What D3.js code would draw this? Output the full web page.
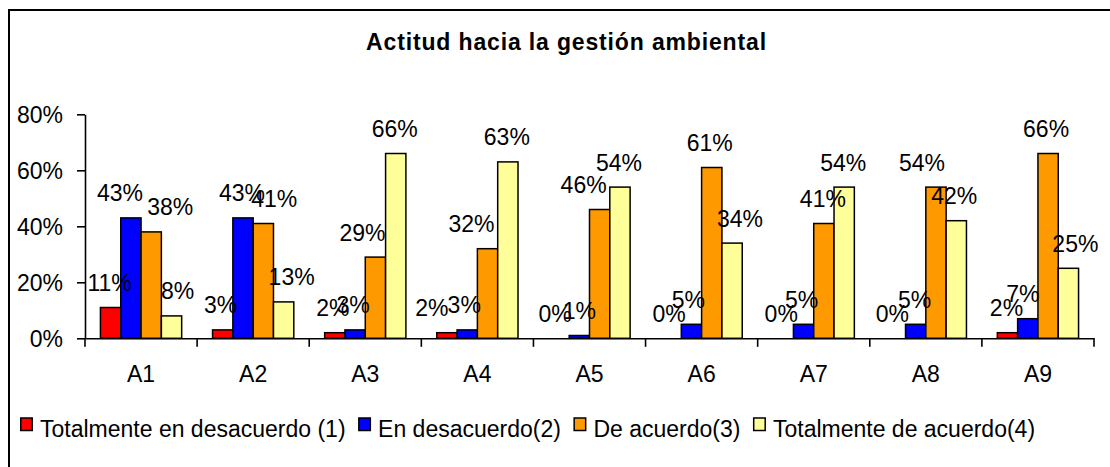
<!DOCTYPE html>
<html>
<head>
<meta charset="utf-8">
<script src="https://cdn.jsdelivr.net/npm/d3@7"></script>
<style>
  html, body { margin: 0; padding: 0; background: #fff; }
  svg { display: block; }
  text { font-family: "Liberation Sans", Arial, sans-serif; fill: #000; }
</style>
</head>
<body>
<svg id="chart" width="1110" height="467"></svg>
<script>
// ---- data ----
const title = "Actitud hacia la gestión ambiental";
const categories = ["A1", "A2", "A3", "A4", "A5", "A6", "A7", "A8", "A9"];
const seriesNames = ["Totalmente en desacuerdo (1)", "En desacuerdo(2)", "De acuerdo(3)", "Totalmente de acuerdo(4)"];
const totDesacuerdo = [11, 3, 2, 2, 0, 0, 0, 0, 2];
const desacuerdo    = [43, 43, 3, 3, 1, 5, 5, 5, 7];
const deAcuerdo     = [38, 41, 29, 32, 46, 61, 41, 54, 66];
const totAcuerdo    = [8, 13, 66, 63, 54, 34, 54, 42, 25];
const yTicks = [0, 20, 40, 60, 80];

// manual label nudges (px, horizontal) as placed in the original chart
const labelNudge = [
  [-1, -11, 19, 6],
  [-2, -1, 11, 8],
  [-2, -2, -13, -1],
  [-15, -3, -16, -1],
  [-4, 0, -16, -1],
  [-2, -3, -2, 8],
  [-2, -2, -1, -1],
  [-3, -1, -14, -2],
  [-1, -5, -2, 7]
];

const seriesValues = [totDesacuerdo, desacuerdo, deAcuerdo, totAcuerdo];
const colors = ["#FF0000", "#0000FF", "#FF9900", "#FFFF99"];

// ---- layout ----
const svg = d3.select("#chart");
const plotLeft = 85, plotRight = 1094, plotTop = 114.3, plotBottom = 338.3;
const FS = 23;

// frame
svg.append("rect")
  .attr("x", 9).attr("y", 10).attr("width", 1200).attr("height", 600)
  .attr("fill", "none").attr("stroke", "#000").attr("stroke-width", 2);

// title
svg.append("text")
  .attr("x", 566.5).attr("y", 50)
  .attr("text-anchor", "middle")
  .style("font-size", "23px").style("font-weight", "bold")
  .style("letter-spacing", "0.85px")
  .text(title);

const x0 = d3.scaleBand().domain(categories).range([plotLeft, plotRight]).paddingInner(0).paddingOuter(0);
const x1 = d3.scaleBand().domain(d3.range(seriesNames.length)).range([0, x0.bandwidth()])
  .paddingInner(0).paddingOuter(0.76);
const y = d3.scaleLinear().domain([0, 80]).range([plotBottom, plotTop]);

// y axis
const yAxis = d3.axisLeft(y).tickValues(yTicks).tickFormat(d => d + "%").tickSize(8).tickSizeOuter(0).tickPadding(14);
const gy = svg.append("g").attr("transform", `translate(${plotLeft},0)`).call(yAxis);
gy.selectAll("text").style("font-size", FS + "px").attr("dy", "0.35em");
gy.selectAll("line, path").attr("stroke", "#000").attr("stroke-width", 1.6);

// bars
const groups = svg.append("g").selectAll("g")
  .data(categories).join("g")
  .attr("transform", d => `translate(${x0(d)},0)`);

groups.each(function(cat, ci) {
  const g = d3.select(this);
  seriesValues.forEach((vals, si) => {
    const v = vals[ci];
    if (v > 0) {
      g.append("rect")
        .attr("x", x1(si)).attr("width", x1.bandwidth())
        .attr("y", y(v)).attr("height", y(0) - y(v))
        .attr("fill", colors[si]).attr("stroke", "#000").attr("stroke-width", 1.5);
    }
  });
  seriesValues.forEach((vals, si) => {
    const v = vals[ci];
    g.append("text")
      .attr("x", x1(si) + x1.bandwidth() / 2 + labelNudge[ci][si])
      .attr("y", y(v) - 16.5)
      .attr("text-anchor", "middle")
      .style("font-size", FS + "px")
      .text(v + "%");
  });
});

// x axis
const xAxis = d3.axisBottom(x0).tickSize(0).tickPadding(0).tickSizeOuter(0);
const gx = svg.append("g").attr("transform", `translate(0,${plotBottom})`).call(xAxis);
gx.select("path").attr("stroke", "#000").attr("stroke-width", 1.6);
gx.selectAll(".tick text").attr("dy", null).attr("y", 43.5).style("font-size", FS + "px");
// category boundary ticks
const bounds = categories.map(c => x0(c)).concat([plotRight]);
gx.selectAll(".bound").data(bounds).join("line")
  .attr("class", "bound")
  .attr("x1", d => d).attr("x2", d => d).attr("y1", 0).attr("y2", 8.5)
  .attr("stroke", "#000").attr("stroke-width", 1.6);

// legend
const leg = svg.append("g");
let lx = 20;
seriesNames.forEach((name, i) => {
  leg.append("rect").attr("x", lx + 0.75).attr("y", 418).attr("width", 11.5).attr("height", 12.5)
    .attr("fill", colors[i]).attr("stroke", "#000").attr("stroke-width", 1.5);
  const t = leg.append("text").attr("x", lx + 20).attr("y", 436.5)
    .style("font-size", FS + "px").text(name);
  lx = lx + 20 + t.node().getComputedTextLength() + 12.5;
});
</script>
</body>
</html>
